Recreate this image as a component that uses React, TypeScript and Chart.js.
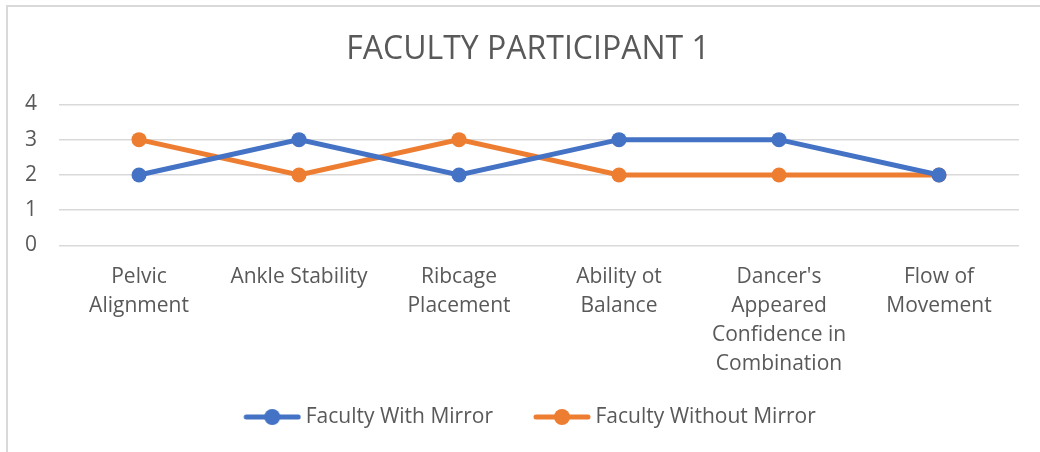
import React, { useEffect, useRef } from "react";
import { Chart, registerables } from "chart.js";

Chart.register(...registerables);

const categories: string[][] = [
  ["Pelvic", "Alignment"],
  ["Ankle Stability"],
  ["Ribcage", "Placement"],
  ["Ability ot", "Balance"],
  ["Dancer's", "Appeared", "Confidence in", "Combination"],
  ["Flow of", "Movement"],
];
const withMirror: number[] = [2, 3, 2, 3, 3, 2];
const withoutMirror: number[] = [3, 2, 3, 2, 2, 2];
const seriesNames: string[] = ["Faculty With Mirror", "Faculty Without Mirror"];
const yTicks: number[] = [0, 1, 2, 3, 4];

const BLUE = "#4472C4";
const ORANGE = "#ED7D31";
const TEXT = "#595959";
const GRID = "#D9D9D9";
const FONT = "'Open Sans', sans-serif";

function legendMarker(color: string): HTMLCanvasElement {
  const c = document.createElement("canvas");
  const W = 94;
  const H = 20;
  c.width = W;
  c.height = H;
  const ctx = c.getContext("2d")!;
  const L = 36;
  ctx.strokeStyle = color;
  ctx.lineWidth = 5;
  ctx.lineCap = "round";
  ctx.beginPath();
  ctx.moveTo(L + 3, H / 2);
  ctx.lineTo(W - 3, H / 2);
  ctx.stroke();
  ctx.fillStyle = color;
  ctx.beginPath();
  ctx.arc(L + 29, H / 2, 8, 0, Math.PI * 2);
  ctx.fill();
  return c;
}

const boxShift = {
  id: "boxShift",
  afterLayout(chart: any) {
    const lg = chart.legend;
    if (lg) {
      lg.left += 5;
      lg.right += 5;
    }
    const tt = chart.titleBlock;
    if (tt) {
      tt.left += 18.5;
      tt.right += 18.5;
    }
  },
};

export default function App() {
  const ref = useRef<HTMLCanvasElement | null>(null);
  useEffect(() => {
    document.body.style.margin = "0";
    const markers = [legendMarker(BLUE), legendMarker(ORANGE)];
    const chart = new Chart(ref.current!, {
      type: "line",
      plugins: [boxShift],
      data: {
        labels: categories,
        datasets: [
          {
            label: seriesNames[0],
            data: withMirror,
            borderColor: BLUE,
            backgroundColor: BLUE,
            borderWidth: 5,
            pointRadius: 7.5,
            pointHoverRadius: 7.5,
            pointBackgroundColor: BLUE,
            pointBorderWidth: 0,
            tension: 0,
          },
          {
            label: seriesNames[1],
            data: withoutMirror,
            borderColor: ORANGE,
            backgroundColor: ORANGE,
            borderWidth: 5,
            pointRadius: 7.5,
            pointHoverRadius: 7.5,
            pointBackgroundColor: ORANGE,
            pointBorderWidth: 0,
            tension: 0,
          },
        ],
      },
      options: {
        animation: false,
        responsive: false,
        maintainAspectRatio: false,
        layout: { padding: { top: 0, bottom: 14.5, left: 0, right: 21 } },
        plugins: {
          tooltip: { enabled: false },
          title: {
            display: true,
            text: "FACULTY PARTICIPANT 1",
            color: TEXT,
            font: { family: FONT, size: 32, weight: "normal", lineHeight: 1.2 },
            padding: { top: 31, bottom: 35 },
          },
          legend: {
            position: "bottom",
            labels: {
              color: TEXT,
              font: { family: FONT, size: 21, lineHeight: 1 },
              usePointStyle: true,
              pointStyleWidth: 82,
              padding: 10,
              generateLabels: (chart: any) => {
                const items = Chart.defaults.plugins.legend.labels.generateLabels(chart);
                items.forEach((it: any, i: number) => {
                  it.pointStyle = markers[i];
                });
                return items;
              },
            },
          },
        },
        scales: {
          x: {
            offset: true,
            grid: { display: false, drawTicks: false },
            border: { display: false },
            ticks: {
              color: TEXT,
              font: { family: FONT, size: 21, lineHeight: 29 / 21 },
              padding: 17,
              maxRotation: 0,
              autoSkip: false,
            },
            afterFit: (s: any) => {
              s.height = 151;
            },
          },
          y: {
            min: 0,
            max: 4,
            afterBuildTicks: (s: any) => {
              s.ticks = yTicks.map((v) => ({ value: v }));
            },
            grid: { color: GRID, lineWidth: 1.5, drawTicks: false },
            border: { display: false },
            ticks: {
              color: TEXT,
              font: { family: FONT, size: 21 },
              padding: 22,
            },
            afterFit: (s: any) => {
              s.width = 59;
            },
          },
        },
      },
    });
    return () => chart.destroy();
  }, []);
  return (
    <div style={{ position: "relative", width: 1040, height: 452, background: "#fff" }}>
      <div
        style={{
          position: "absolute",
          left: 6,
          top: 5,
          width: 1034,
          height: 447,
          borderTop: "2px solid #D9D9D9",
          borderLeft: "2px solid #D9D9D9",
          boxSizing: "border-box",
          pointerEvents: "none",
        }}
      />
      <canvas ref={ref} width={1040} height={452} style={{ display: "block" }} />
    </div>
  );
}
